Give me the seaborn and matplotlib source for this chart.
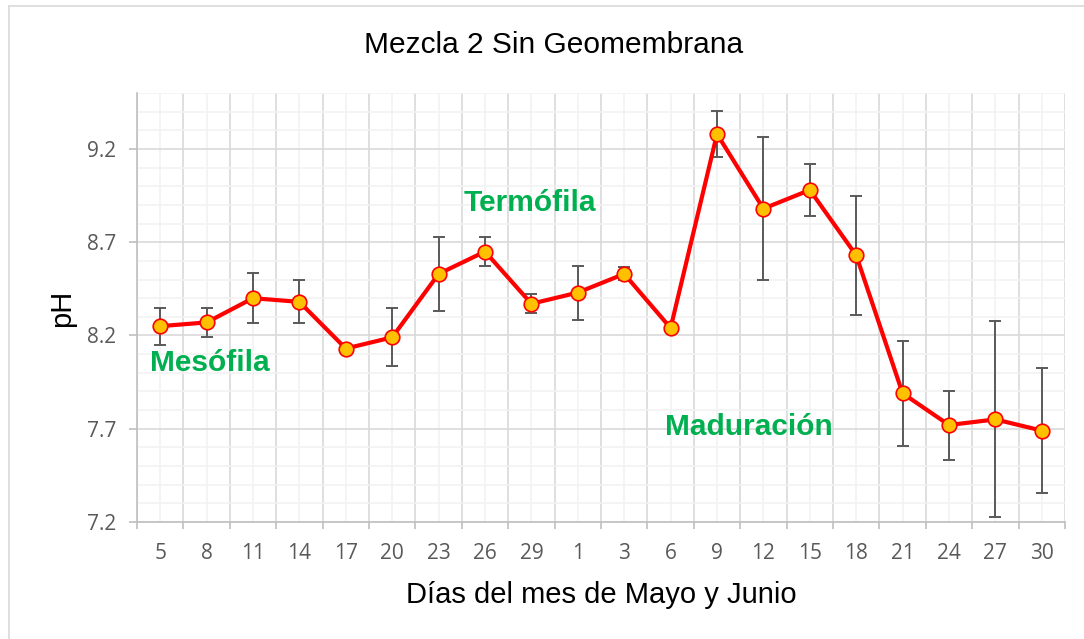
import numpy as np
import pandas as pd
import matplotlib
matplotlib.use("Agg")
import matplotlib.pyplot as plt
from matplotlib.lines import Line2D
import seaborn as sns

# Data
dias = ["5", "8", "11", "14", "17", "20", "23", "26", "29", "1",
        "3", "6", "9", "12", "15", "18", "21", "24", "27", "30"]
ph = [8.25, 8.27, 8.40, 8.38, 8.13, 8.19, 8.53, 8.65, 8.37, 8.43,
      8.53, 8.24, 9.28, 8.88, 8.98, 8.63, 7.89, 7.72, 7.75, 7.69]
ph_err = [0.10, 0.08, 0.135, 0.115, 0.0, 0.155, 0.20, 0.08, 0.05, 0.145,
          0.035, 0.0, 0.125, 0.385, 0.14, 0.318, 0.28, 0.185, 0.525, 0.335]
fases = ["Mesófila", "Termófila", "Maduración"]
fase_pos = [(-0.22, 8.05), (6.53, 8.91), (10.88, 7.71)]

df = pd.DataFrame({"pos": np.arange(len(dias)), "dia": dias, "ph": ph, "err": ph_err})

sns.set_theme(style="white")
plt.rcParams["font.family"] = ["Liberation Sans", "DejaVu Sans"]

fig = plt.figure(figsize=(10.84, 6.39), dpi=100)
ax = fig.add_axes([137 / 1084, 1 - 522 / 639, (1065 - 137) / 1084, (522 - 93) / 639])

# error bars behind the line
ax.errorbar(df["pos"], df["ph"], yerr=df["err"], fmt="none", ecolor="#595959",
            elinewidth=1.4, capsize=4.5, capthick=1.4, zorder=2)
sns.lineplot(data=df, x="pos", y="ph", ax=ax, color="#FF0000", linewidth=3.0,
             marker="o", markersize=10.5, markerfacecolor="#FFC000",
             markeredgecolor="#FF0000", markeredgewidth=1.2, zorder=3)

ax.set_xlim(-0.5, len(dias) - 0.5)
ax.set_ylim(7.2, 9.5)
ax.set_yticks([7.2, 7.7, 8.2, 8.7, 9.2])
ax.set_yticks(np.arange(7.2, 9.51, 0.1), minor=True)
ax.set_xticks(df["pos"])
ax.set_xticklabels(dias)
ax.set_xticks(np.arange(-0.5, len(dias), 1.0), minor=True)

ax.set_axisbelow(True)
ax.grid(which="major", axis="y", color="#D9D9D9", linewidth=1.2)
ax.grid(which="minor", axis="y", color="#F2F2F2", linewidth=1.2)
ax.grid(which="minor", axis="x", color="#D9D9D9", linewidth=1.2)
ax.grid(which="major", axis="x", color="#F2F2F2", linewidth=1.2)

for s in ["top", "right"]:
    ax.spines[s].set_visible(False)
for s in ["left", "bottom"]:
    ax.spines[s].set_color("#BFBFBF")
    ax.spines[s].set_linewidth(1.2)

ax.tick_params(axis="x", which="major", length=0, pad=15, labelsize=15,
               labelcolor="#595959")
ax.tick_params(axis="x", which="minor", length=5, width=1.2, color="#BFBFBF",
               direction="out", bottom=True)
ax.tick_params(axis="y", which="major", length=6, width=1.2, color="#BFBFBF",
               direction="out", left=True, labelsize=15, labelcolor="#595959", pad=9)
ax.tick_params(axis="y", which="minor", length=0)
for lab in ax.get_xticklabels() + ax.get_yticklabels():
    lab.set_family(["Open Sans", "DejaVu Sans"])

ax.set_xlabel("")
ax.set_ylabel("")

for name, (xp, yp) in zip(fases, fase_pos):
    ax.text(xp, yp, name, color="#00B050", fontsize=21.5, fontweight="bold",
            ha="left", va="center", zorder=4)

fig.text(554 / 1084, 1 - 45 / 639, "Mezcla 2 Sin Geomembrana", fontsize=21.5,
         ha="center", va="center", color="black")
fig.text(601 / 1084, 1 - 595 / 639, "Días del mes de Mayo y Junio", fontsize=21,
         ha="center", va="center", color="black")
fig.text(62 / 1084, 1 - 308 / 639, "pH", fontsize=21, rotation=90,
         ha="center", va="center", color="black")

# chart-area border (left and top edges visible in the reference)
fig.add_artist(Line2D([9 / 1084, 9 / 1084], [0, 1 - 6 / 639], color="#D9D9D9", lw=1.2))
fig.add_artist(Line2D([9 / 1084, 1], [1 - 6 / 639, 1 - 6 / 639], color="#D9D9D9", lw=1.2))

fig.savefig("out.png", dpi=100)
